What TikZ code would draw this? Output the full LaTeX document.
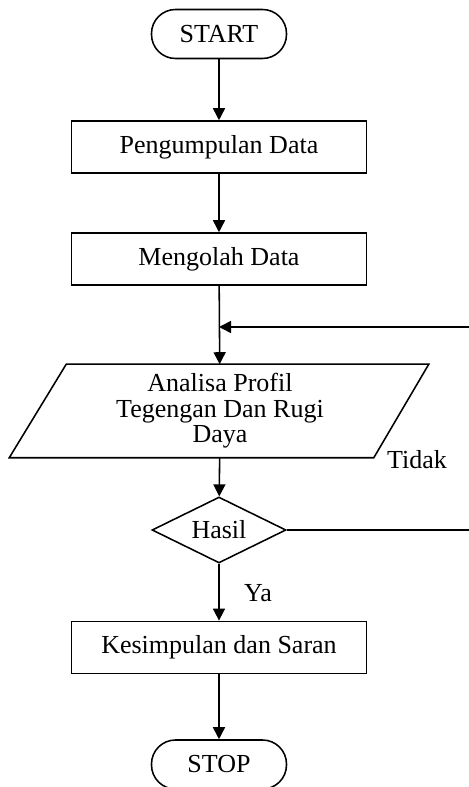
\documentclass[tikz,border=0pt]{standalone}
\usepackage{fontspec}
\setmainfont{Liberation Serif}
\usetikzlibrary{shapes.geometric,arrows.meta}

\begin{document}
\begin{tikzpicture}[->,>={Triangle[length=0.3cm,width=0.3cm]},line width=1.1pt,font=\fontsize{18.5}{18.2}\selectfont]
			\tikzstyle{term} = [rectangle,draw,rounded corners=0.6cm,minimum width=3.375cm,minimum height=1.225cm]
			\tikzstyle{proc} = [rectangle,draw,minimum width=7.375cm,minimum height=1.3cm]
			\tikzstyle{io}   = [rectangle,align=center,inner sep=0pt,minimum width=7.65cm,minimum height=2.3cm]
			\tikzstyle{decision} = [diamond,draw,shape aspect=2,inner sep=0pt,minimum width=3.35cm,minimum height=1.65cm]
			
			\useasboundingbox (0,0) rectangle (11.725,19.675);
			
			\node[term] (start) at (5.475,18.825) {START};
			\node[proc] (kumpul) at (5.475,16.0) {Pengumpulan Data};
			\node[proc] (olah) at (5.475,13.2) {Mengolah Data};
			
			\node[io] (analisa) at (5.5,9.4) {Analisa Profil\\Tegengan Dan Rugi\\Daya};
			\draw[-] (analisa.north west) -- ([xshift=1.375cm]analisa.north east) -- (analisa.south east) -- ([xshift=-1.425cm]analisa.south west) -- cycle;
			
			\node[decision] (hasil) at (5.475,6.425) {Hasil};
			\node (tidak) at (10.425,8.175) {Tidak};
			\node (ya) at (6.45,4.85) {Ya};
			
			\node[proc] (simpul) at (5.475,3.49) {Kesimpulan dan Saran};
			\node[term] (stop) at (5.475,0.5625) {STOP};
			
			\path (start) edge (kumpul);
			\path (kumpul) edge (olah);
			\path (olah) edge (analisa);
			\path (analisa) edge (hasil);
			\path (hasil) edge (simpul);
			\path (simpul) edge (stop);
			
			% balik ke analisa kalau tidak
			\coordinate (gabung) at (5.475,11.5);
			\coordinate (kanan) at (11.9,11.5);
			\draw (hasil.east) -- (hasil.east -| kanan) -- (kanan) -- (gabung);
		\end{tikzpicture}
\end{document}
